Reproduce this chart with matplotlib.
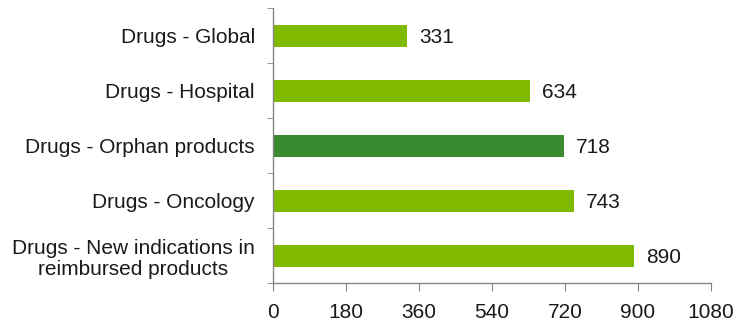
import matplotlib
matplotlib.use("Agg")
import matplotlib.pyplot as plt
import numpy as np

categories = ["Drugs - Global", "Drugs - Hospital", "Drugs - Orphan products",
              "Drugs - Oncology", "Drugs - New indications in\nreimbursed products"]
values = [331, 634, 718, 743, 890]
highlight = "Drugs - Orphan products"
xticks = [0, 180, 360, 540, 720, 900, 1080]

plt.rcParams['font.family'] = ['Liberation Sans', 'DejaVu Sans']

fig = plt.figure(figsize=(7.37, 3.22), dpi=100)
ax = fig.add_axes([273/737, 1 - 283/322, 438/737, 275/322])

light = "#7FBA00"
dark = "#3A8A2F"
fs = 15
n = len(categories)
ypos = np.arange(n)
colors = [dark if c == highlight else light for c in categories]
ax.barh(ypos, values, height=0.4, color=colors)
for y, v in zip(ypos, values):
    ax.text(v + 12 * 1080 / 438, y, str(v), va='center_baseline', ha='left',
            fontsize=fs, color='#1a1a1a')

ax.set_xlim(0, 1080)
ax.set_ylim(n - 0.5, -0.5)
ax.set_xticks(xticks)
ax.set_xticklabels([str(t) for t in xticks], fontsize=fs, color='#1a1a1a')
ax.set_yticks(ypos)
ax.set_yticklabels(categories, fontsize=fs, color='#1a1a1a', multialignment='center',
                   linespacing=1.15)
ax.set_yticks(np.arange(-0.5, n, 1.0), minor=True)
ax.tick_params(axis='y', which='major', length=0, pad=13)
ax.tick_params(axis='y', which='minor', length=4.5, color='#868686', direction='out')
ax.tick_params(axis='x', which='major', length=5.5, color='#868686', direction='out', pad=9)

for s in ['top', 'right']:
    ax.spines[s].set_visible(False)
for s in ['left', 'bottom']:
    ax.spines[s].set_color('#868686')
    ax.spines[s].set_linewidth(1.0)

fig.savefig("out.png", dpi=100)
